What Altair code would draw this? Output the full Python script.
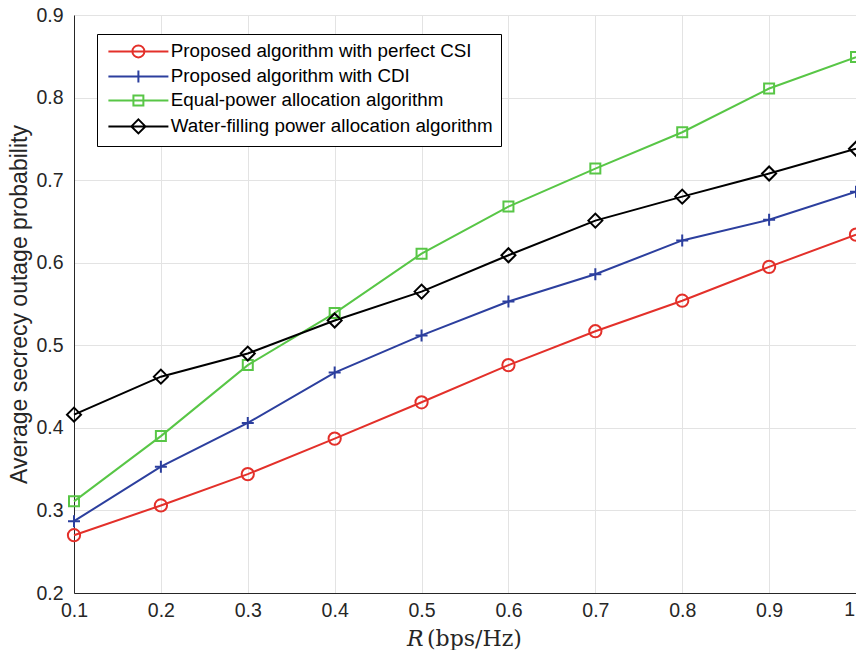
import altair as alt
import pandas as pd

R = [0.1, 0.2, 0.3, 0.4, 0.5, 0.6, 0.7, 0.8, 0.9, 1.0]
perfect_csi = [0.270, 0.306, 0.344, 0.387, 0.431, 0.476, 0.517, 0.554, 0.595, 0.634]
cdi = [0.287, 0.353, 0.406, 0.467, 0.512, 0.553, 0.586, 0.627, 0.652, 0.686]
equal_power = [0.311, 0.390, 0.476, 0.539, 0.611, 0.668, 0.714, 0.758, 0.811, 0.849]
water_filling = [0.416, 0.462, 0.490, 0.530, 0.565, 0.609, 0.651, 0.680, 0.708, 0.738]

series_names = [
    "Proposed algorithm with perfect CSI",
    "Proposed algorithm with CDI",
    "Equal-power allocation algorithm",
    "Water-filling power allocation algorithm",
]
series_values = [perfect_csi, cdi, equal_power, water_filling]
colors = ["#e3302a", "#2c3f9e", "#58c646", "#000000"]
y_ticks = [0.2, 0.3, 0.4, 0.5, 0.6, 0.7, 0.8, 0.9]

rows = []
for name, vals in zip(series_names, series_values):
    for r, v in zip(R, vals):
        rows.append({"R": r, "p": v, "series": name})
df = pd.DataFrame(rows)

W, H = 782, 578
FONT = "Liberation Sans"
TXT = "#262626"

x_enc = alt.X(
    "R:Q",
    scale=alt.Scale(domain=[0.1, 1.0], nice=False, zero=False),
    axis=alt.Axis(values=R, title=None, grid=True, ticks=False,
                  labelExpr="datum.value >= 0.999 ? '' : format(datum.value, '.1f')",
                  labelPadding=8, labelFontSize=19.5, labelFont=FONT, labelColor=TXT,
                  domainColor=TXT, gridColor="#e3e3e3", labelFlush=False),
)
y_enc = alt.Y(
    "p:Q",
    scale=alt.Scale(domain=[0.2, 0.9], nice=False, zero=False),
    axis=alt.Axis(values=y_ticks, format=".1f", title="Average secrecy outage probability",
                  grid=True, ticks=False, labelPadding=11, labelFontSize=19.5, labelFont=FONT,
                  labelColor=TXT, domainColor=TXT, gridColor="#e3e3e3",
                  titleFont=FONT, titleFontSize=23, titleFontWeight="normal",
                  titleColor=TXT, titlePadding=4),
)

marker_shapes = ["circle", "M-1,0H1M0,-1V1", "square", "diamond"]
marker_sizes = [150, 144, 100, 196]

layers = []
for name, col in zip(series_names, colors):
    layers.append(
        alt.Chart(df).transform_filter(alt.datum.series == name)
        .mark_line(strokeWidth=2, color=col)
        .encode(x=x_enc, y=y_enc)
    )
for name, col, shp, sz in zip(series_names, colors, marker_shapes, marker_sizes):
    layers.append(
        alt.Chart(df).transform_filter(alt.datum.series == name)
        .mark_point(shape=shp, size=sz, filled=False, strokeWidth=2, opacity=1, color=col)
        .encode(x=x_enc, y=y_enc)
    )

legend_paths = [
    "M-1,0H9M3,0A1,1 0 1,0 5,0A1,1 0 1,0 3,0",
    "M-1,0H9M4,-1V1",
    "M-1,0H9M3.17,-0.83H4.83V0.83H3.17Z",
    "M-1,0H9M4,-1.17L5.17,0L4,1.17L2.83,0Z",
]
leg_df = pd.DataFrame({"R": [0.5] * 4, "p": [0.0] * 4, "series": series_names})
legend = alt.Legend(
    title=None, orient="none", legendX=23, legendY=19,
    symbolSize=144, symbolStrokeWidth=2, labelOffset=47, labelLimit=500,
    labelFontSize=18.8, labelFont=FONT, labelColor="#000000",
    strokeColor="#000000", fillColor="#ffffff", padding=8, rowPadding=4,
)
leg_layer = alt.Chart(leg_df).mark_point(filled=False, strokeWidth=2, opacity=1, clip=True).encode(
    x=x_enc, y=y_enc,
    color=alt.Color("series:N", scale=alt.Scale(domain=series_names, range=colors), legend=legend),
    shape=alt.Shape("series:N", scale=alt.Scale(domain=series_names, range=legend_paths), legend=legend),
)
layers.append(leg_layer)

last_tick = pd.DataFrame({"R": R[-1:], "lab": ["1"]})
last_label = alt.Chart(last_tick).mark_text(
    font=FONT, fontSize=19.5, align="right", baseline="top", dx=-1, color=TXT
).encode(x=alt.X("R:Q"), y=alt.value(H + 8), text="lab:N")

xt1 = alt.Chart(pd.DataFrame({"t": ["R"]})).mark_text(
    font="DejaVu Serif", fontStyle="italic", fontSize=22, align="left", baseline="middle", color=TXT
).encode(x=alt.value(333), y=alt.value(624), text="t:N")
xt2 = alt.Chart(pd.DataFrame({"t": ["(bps/Hz)"]})).mark_text(
    font="DejaVu Serif", fontSize=22, align="left", baseline="middle", color=TXT
).encode(x=alt.value(353), y=alt.value(624), text="t:N")
layers += [last_label, xt1, xt2]

chart = alt.layer(*layers).properties(
    width=W, height=H,
    autosize=alt.AutoSizeParams(type="none"),
    padding={"left": 66, "top": 7, "right": 0, "bottom": 57},
).configure_view(stroke=TXT, strokeWidth=1).configure(background="white")

chart.save("out.html", embed_options={"renderer": "svg", "actions": False})
